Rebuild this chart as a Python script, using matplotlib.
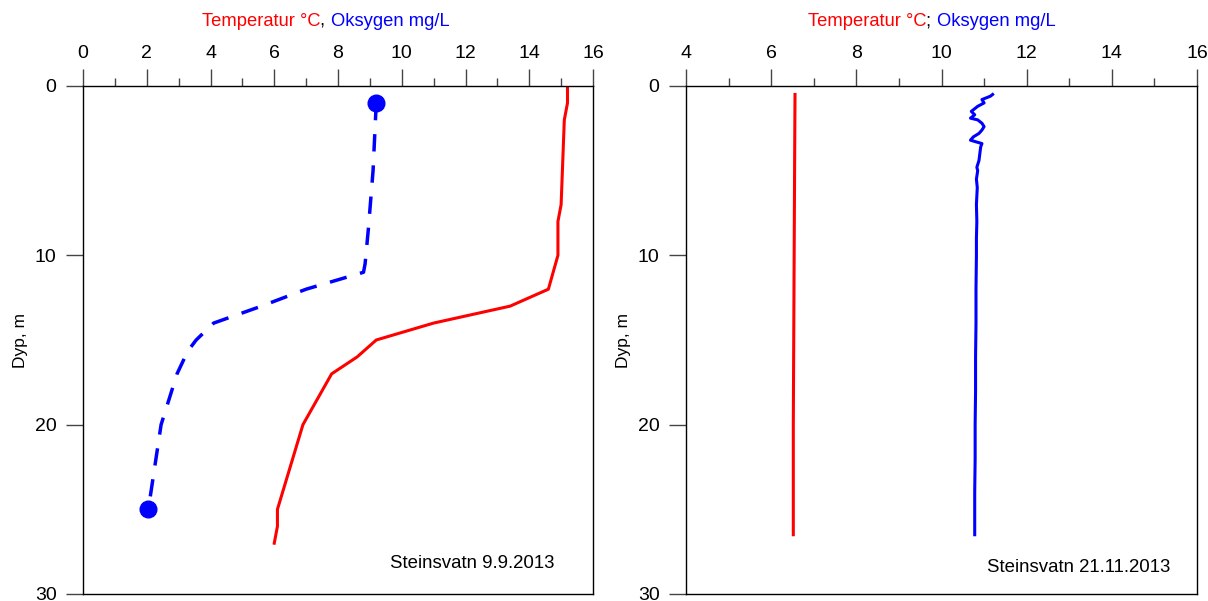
import matplotlib
matplotlib.use("Agg")
import matplotlib.pyplot as plt
from matplotlib.ticker import MultipleLocator

plt.rcParams['font.family'] = ['Liberation Sans', 'DejaVu Sans']

# ---------------------------------------------
# Data: Steinsvatn 9.9.2013
# ---------------------------------------------
temp_sep_depth = [0, 1, 2, 7, 8, 10, 12, 13, 14, 15, 16, 17, 20, 25, 26, 27]
temp_sep = [15.2, 15.2, 15.1, 15.0, 14.9, 14.9, 14.6, 13.4, 11.0, 9.2, 8.6, 7.8, 6.9, 6.1, 6.1, 6.0]

oxy_sep_depth = [1, 5, 8.5, 10.5, 11, 12, 13, 14, 15, 15.5, 16, 17, 20, 25]
oxy_sep = [9.2, 9.1, 8.95, 8.85, 8.8, 7.0, 5.6, 4.1, 3.55, 3.35, 3.2, 2.95, 2.45, 2.05]

# ---------------------------------------------
# Data: Steinsvatn 21.11.2013
# ---------------------------------------------
temp_nov_depth = [0.5, 5, 10, 15, 20, 26.5]
temp_nov = [6.56, 6.55, 6.54, 6.53, 6.52, 6.52]

oxy_nov_depth = [0.5, 0.6, 0.8, 1.0, 1.2, 1.4, 1.5, 1.7, 1.9, 2.0, 2.2, 2.4, 2.6,
                 2.8, 3.0, 3.2, 3.4, 3.6, 4.0, 4.4, 4.8, 5.0, 5.5, 6.0, 7.0, 8.0,
                 9.0, 10.0, 12.0, 14.0, 16.0, 18.0, 20.0, 22.0, 24.0, 26.5]
oxy_nov = [11.2, 11.15, 10.95, 11.0, 10.85, 10.75, 10.7, 10.78, 10.68, 10.85, 10.95,
           11.0, 10.95, 10.88, 10.75, 10.68, 10.95, 10.92, 10.9, 10.88, 10.83, 10.85,
           10.82, 10.84, 10.82, 10.83, 10.82, 10.82, 10.81, 10.81, 10.8, 10.8, 10.79,
           10.79, 10.78, 10.78]

x_ticks_sep = [0, 2, 4, 6, 8, 10, 12, 14, 16]
x_ticks_nov = [4, 6, 8, 10, 12, 14, 16]
y_ticks = [0, 10, 20, 30]

fig = plt.figure(figsize=(12.08, 6.01), dpi=100)
ax1 = fig.add_axes([83 / 1208, 1 - 594 / 601, 510 / 1208, 508 / 601])
ax2 = fig.add_axes([686 / 1208, 1 - 594 / 601, 511 / 1208, 508 / 601])


def style_axis(ax, xlim, xticks):
    ax.set_xlim(*xlim)
    ax.set_ylim(30, 0)
    ax.xaxis.tick_top()
    ax.set_xticks(xticks)
    ax.xaxis.set_minor_locator(MultipleLocator(1))
    ax.set_yticks(y_ticks)
    ax.tick_params(axis='x', which='major', direction='out', length=12.2, width=1,
                   color='#444444', labelsize=14, pad=5)
    ax.tick_params(axis='x', which='minor', direction='out', length=5.8, width=1,
                   color='#444444')
    ax.tick_params(axis='y', which='major', direction='out', length=12, width=1,
                   color='#444444', labelsize=14, pad=7)
    for sp in ax.spines.values():
        sp.set_linewidth(1)
        sp.set_color('black')
    ax.set_ylabel("Dyp, m", fontsize=12.5, labelpad=5)


style_axis(ax1, (0, 16), x_ticks_sep)
style_axis(ax2, (4, 16), x_ticks_nov)

# Venstre panel
ax1.plot(temp_sep, temp_sep_depth, color='red', lw=2.2)
ax1.plot(oxy_sep, oxy_sep_depth, color='blue', lw=2.5, linestyle=(0, (5, 4)),
         marker='o', markersize=12, markevery=[0, len(oxy_sep) - 1])
ax1.text(0.925, 0.061, "Steinsvatn 9.9.2013", transform=ax1.transAxes,
         ha='right', va='center', fontsize=13.4)

# Høyre panel
ax2.plot(temp_nov, temp_nov_depth, color='red', lw=2.2)
ax2.plot(oxy_nov, oxy_nov_depth, color='blue', lw=2.2)
ax2.text(0.947, 0.053, "Steinsvatn 21.11.2013", transform=ax2.transAxes,
         ha='right', va='center', fontsize=13.4)

# Titler i to farger
renderer = fig.canvas.get_renderer()


def colored_title(x_left, parts, y=0.965):
    x = x_left
    for txt, col in parts:
        t = fig.text(x, y, txt, color=col, fontsize=13.2, ha='left', va='center')
        bb = t.get_window_extent(renderer=renderer)
        x = bb.x1 / fig.bbox.width


colored_title(202 / 1208, [("Temperatur °C", 'red'), (", ", 'black'), ("Oksygen mg/L", 'blue')])
colored_title(808 / 1208, [("Temperatur °C", 'red'), ("; ", 'black'), ("Oksygen mg/L", 'blue')])

fig.savefig("out.png", dpi=100)
